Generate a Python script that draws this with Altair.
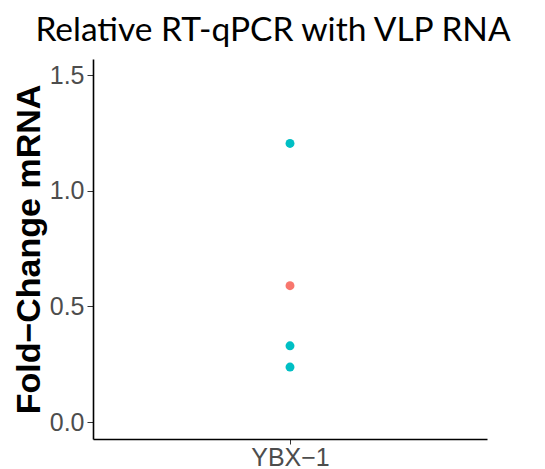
import altair as alt
import pandas as pd

genes = ["YBX−1", "YBX−1", "YBX−1", "YBX−1"]
groups = ["B", "A", "B", "B"]
fold_change = [1.205, 0.59, 0.33, 0.238]
colors = ["#F8766D", "#00BFC4"]

df = pd.DataFrame({"gene": genes, "group": groups, "value": fold_change})

FONT = "Liberation Sans"

chart = alt.Chart(df).mark_circle(size=80, opacity=1).encode(
    x=alt.X("gene:N", title=None, scale=alt.Scale(type="point", padding=0.5),
            axis=alt.Axis(labelAngle=0, labelFontSize=25,
                          labelColor="#4D4D4D", tickColor="#333333", tickSize=5,
                          domainColor="#000000", domainWidth=1.6, labelPadding=1,
                          grid=False)),
    y=alt.Y("value:Q", title="Fold−Change mRNA",
            scale=alt.Scale(domain=[-0.073, 1.57], nice=False, zero=False),
            axis=alt.Axis(values=[0, 0.5, 1.0, 1.5], format=".1f", grid=False,
                          labelFontSize=25,
                          labelColor="#4D4D4D", tickColor="#333333", tickSize=6,
                          domainColor="#000000", domainWidth=1.6, labelPadding=3,
                          titleFontSize=34,
                          titleFontWeight="bold", titleColor="#000000",
                          titlePadding=3)),
    color=alt.Color("group:N", scale=alt.Scale(domain=["A", "B"], range=colors), legend=None),
).properties(
    width=394,
    height=380,
    title=alt.TitleParams("Relative RT-qPCR with VLP RNA", font="Lato", fontSize=33.5,
                          fontWeight="normal", color="#000000", anchor="middle",
                          dx=-17, offset=11),
    autosize=alt.AutoSizeParams(type="none"),
    padding={"left": 85, "top": 51, "right": 50, "bottom": 30},
).configure_view(stroke=None).configure_axis(labelFont=FONT, titleFont=FONT)

chart.save("out.html", embed_options={"renderer": "svg", "actions": False})
